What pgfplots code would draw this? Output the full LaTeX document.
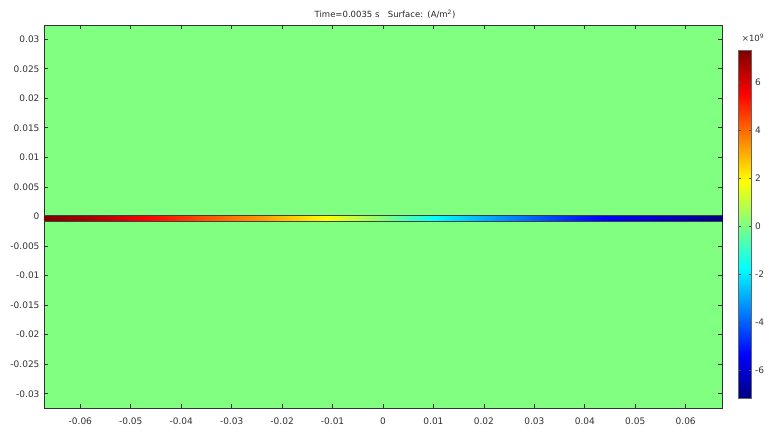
\documentclass[border=0pt]{standalone}
\usepackage{pgfplots}
\pgfplotsset{compat=1.18}
\usepackage{fontspec}
\setmainfont{DejaVu Sans}
\definecolor{bggreen}{RGB}{128,255,128}
\definecolor{tickgray}{RGB}{50,50,50}
\begin{document}
\begin{tikzpicture}[x=1pt,y=1pt]
\useasboundingbox (0,0) rectangle (774,434);
\begin{axis}[
    at={(44pt,26pt)}, anchor=south west,
    scale only axis, width=678pt, height=383pt,
    xmin=-0.0672, xmax=0.0672, ymin=-0.0324, ymax=0.0324,
    scaled x ticks=false, scaled y ticks=false,
    axis background/.style={fill=bggreen},
    axis line style={tickgray, line width=0.9pt},
    tick align=inside,
    major tick length=4pt,
    tick style={tickgray, line width=0.7pt},
    font=\fontsize{9}{10}\selectfont,
    tick label style={font=\fontsize{9}{10}\selectfont, text=tickgray},
    /pgf/number format/assume math mode=true,
    xtick={-0.06,-0.05,-0.04,-0.03,-0.02,-0.01,0,0.01,0.02,0.03,0.04,0.05,0.06},
    xticklabels={-0.06,-0.05,-0.04,-0.03,-0.02,-0.01,0,0.01,0.02,0.03,0.04,0.05,0.06},
    ytick={-0.03,-0.025,-0.02,-0.015,-0.01,-0.005,0,0.005,0.01,0.015,0.02,0.025,0.03},
    yticklabels={-0.03,-0.025,-0.02,-0.015,-0.01,-0.005,0,0.005,0.01,0.015,0.02,0.025,0.03},
    xticklabel style={yshift=-6pt},
    yticklabel style={xshift=-1pt},
    colormap/jet,
    point meta min=-7.2, point meta max=7.3,
    colorbar,
    colorbar style={
        at={(parent axis.north east)}, anchor=north west,
        xshift=8pt, yshift=-25.7pt,
        width=13pt, height=348pt,
        scaled y ticks=false,
        ytick={-6,-4,-2,0,2,4,6},
        yticklabels={-6,-4,-2,0,2,4,6},
        yticklabel pos=right,
        ytick pos=both,
        tick align=inside,
        major tick length=2.5pt,
        tick style={black!70, line width=0.6pt},
        axis line style={black!60, line width=0.6pt},
        tick label style={font=\fontsize{9}{10}\selectfont, text=tickgray},
    },
]
% current density along the strip, units 1e9 A/m^2
\addplot[surf, shader=interp, point meta=explicit] table[meta=v] {
x y v
-0.0672 0.0002 7.3
-0.0600 0.0002 6.9
-0.0550 0.0002 6.4
-0.0440 0.0002 5.2
-0.0350 0.0002 4.3
-0.0250 0.0002 3.4
-0.0110 0.0002 1.8
0.0000 0.0002 0.1
0.0107 0.0002 -1.8
0.0210 0.0002 -3.0
0.0300 0.0002 -4.0
0.0390 0.0002 -5.0
0.0490 0.0002 -5.8
0.0590 0.0002 -6.5
0.0672 0.0002 -7.2

-0.0672 -0.0008 7.3
-0.0600 -0.0008 6.9
-0.0550 -0.0008 6.4
-0.0440 -0.0008 5.2
-0.0350 -0.0008 4.3
-0.0250 -0.0008 3.4
-0.0110 -0.0008 1.8
0.0000 -0.0008 0.1
0.0107 -0.0008 -1.8
0.0210 -0.0008 -3.0
0.0300 -0.0008 -4.0
0.0390 -0.0008 -5.0
0.0490 -0.0008 -5.8
0.0590 -0.0008 -6.5
0.0672 -0.0008 -7.2
};
\addplot[draw=black!75, line width=0.8pt] coordinates {(-0.0672,0.0002) (0.0672,0.0002)};
\addplot[draw=black!75, line width=0.8pt] coordinates {(-0.0672,-0.0008) (0.0672,-0.0008)};
\end{axis}
\node[font=\fontsize{8.5}{10}\selectfont, text=black!85] at (385,420) {Time=0.0035 s\quad Surface:\enspace (A/m\textsuperscript{2})};
\node[font=\fontsize{8.5}{10}\selectfont, text=tickgray] at (753,396) {×10\textsuperscript{9}};
\end{tikzpicture}
\end{document}
